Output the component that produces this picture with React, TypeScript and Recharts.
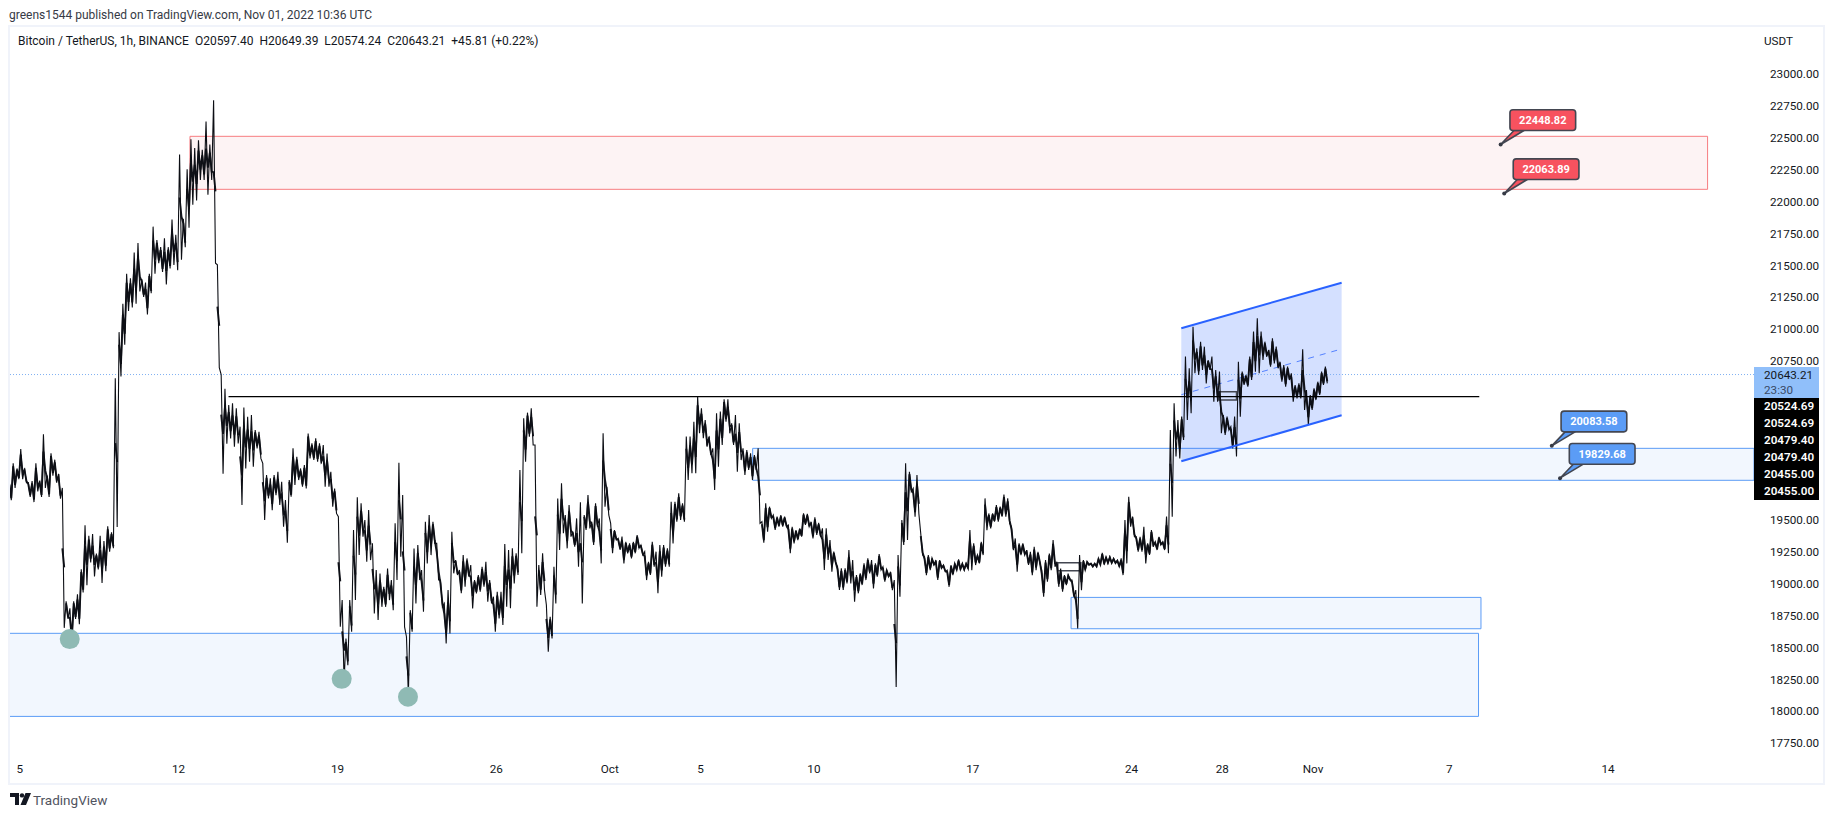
import React from "react";
import {
  ComposedChart, Line, Area, XAxis, YAxis, ReferenceArea, ReferenceLine, ReferenceDot, Scatter,
} from "recharts";

// 4-hour high / low readings of BTC/USDT, first bucket begins at hour -11 relative to Sep 5 00:00
const highs = [
19795,19947,19906,20058,19906,19795,19808,19947,19808,20175,19850,20025,19975,19864,19753,18864,18808,18864,18919,19114,
19461,19378,19392,19239,19378,19336,19453,19405,20614,20976,21198,21434,21398,21601,21676,21392,21365,21434,21804,21698,
21643,21712,21643,21859,21740,22371,21865,22254,22490,22421,22482,22407,22629,22448,22796,21504,20642,20531,
20404,20417,20378,20234,20385,20312,20325,20207,20194,19946,19854,19828,19854,19880,19802,19658,19815,20064,19998,19906,
19933,20181,20103,20142,20103,20090,20024,19880,19749,19527,18873,18572,18873,19422,19679,19632,19501,19579,19318,19108,
19082,18977,19121,19030,19475,19951,19697,18585,18794,19278,19305,19108,19488,19540,19488,19318,19030,18847,18951,
19410,19187,19109,19227,19200,19148,19030,19070,19135,19174,19030,18899,18939,18939,19313,19266,19279,19240,19894,20300,
20344,20378,20090,19148,19240,18834,18742,19135,19671,19789,19541,19619,19410,19514,19640,19541,19698,19488,19632,19514,
20182,19763,19475,19423,19357,19371,19331,19318,19331,19384,19305,19253,19174,19331,19253,19305,19305,19279,
19645,19645,19711,19632,20156,20156,20273,20470,20378,20286,20156,20064,20339,20352,20449,20449,20260,20326,20260,20064,
20051,20025,20012,20064,19488,19632,19606,19541,19528,19541,19528,19462,19449,19423,19436,19554,19549,19488,19522,19480,
19436,19436,19344,19253,19135,19122,19122,19266,19187,19070,19083,19161,19200,19187,19161,19234,19135,19109,
19095,19030,19226,19501,19946,19880,19750,19854,19396,19213,19226,19200,19187,19187,19148,19108,19148,19161,19192,19161,
19161,19422,19318,19226,19331,19671,19553,19553,19619,19606,19702,19671,19449,19357,19318,19318,19265,19252,19291,19252,
19108,19187,19239,19344,19174,19121,19069,19069,19030,18951,19226,19187,19174,19161,19161,19200,19244,19213,
19213,19200,19187,19200,19501,19684,19528,19370,19370,19449,19318,19423,19331,19370,19331,19528,20208,20417,20286,20313,
20784,20692,21019,20849,20901,20862,20757,20784,20679,20666,20326,20313,20234,20313,20744,20666,20640,20784,20980,21085,
20980,20901,20836,20928,20862,20744,20718,20705,20653,20561,20574,20841,20522,20483,20535,20587,20666,20705,
];
const lows = [
19656,19753,19822,19822,19795,19683,19642,19725,19683,19753,19683,19850,19795,19669,18655,18725,18502,18725,18683,18933,
18989,19169,19058,19114,19008,19100,19253,19280,19447,20628,20878,21142,21170,21198,21295,21253,21114,21281,21434,21517,
21448,21351,21476,21504,21462,21545,21643,21795,21976,22009,22171,22171,22054,22171,21517,20698,19864,20100,
20142,20077,20103,19619,19906,19959,19920,20064,19985,19501,19671,19579,19697,19619,19449,19323,19684,19776,19815,19763,
19749,19985,19972,19959,19946,19763,19763,19606,19553,18663,18232,18362,18624,18873,19226,19370,19174,19187,18768,18716,
18820,18820,18873,18794,19030,19213,18663,18127,18624,18847,19030,18781,19161,19226,19318,19030,18820,18533,18611,
19083,19070,18926,18978,19056,18808,18926,18939,18978,18860,18847,18625,18729,18677,18821,18808,19004,19070,19240,19959,
20156,20090,18821,18913,18952,18468,18572,18847,19266,19397,19279,19371,19292,19135,18847,19423,19436,19305,19449,19161,
19606,19541,19240,19344,19266,19161,19240,19200,19240,19279,19227,19030,19070,19135,18926,19056,19135,19135,
19318,19488,19501,19488,19815,19868,19868,20182,20143,20077,20012,19737,19920,20090,20273,20182,20090,19881,19972,19855,
19894,19815,19894,19475,19323,19410,19514,19423,19449,19449,19449,19240,19318,19344,19371,19462,19449,19357,19384,19371,
19109,19187,19096,19161,18952,18952,19004,19004,18860,18926,18991,19030,19083,18965,19056,19109,19017,19056,
18951,18190,18899,19305,19344,19723,19527,19553,19226,19069,19108,19148,19030,19121,19095,18977,19069,19108,19108,19108,
19121,19108,19148,19161,19226,19422,19435,19488,19488,19527,19527,19475,19265,19095,19226,19226,19148,19069,19108,19161,
18899,19017,19108,19134,18977,18938,18991,19030,18899,18650,18951,19108,19148,19134,19134,19148,19148,19161,
19161,19161,19135,19069,19161,19449,19370,19253,19253,19161,19227,19292,19266,19305,19266,19240,19528,20000,19985,20129,
20286,20339,20653,20640,20679,20574,20679,20430,20430,20182,20169,20208,20064,20000,20313,20561,20548,20600,20666,20653,
20757,20784,20705,20731,20692,20587,20548,20600,20430,20456,20456,20365,20247,20365,20443,20483,20561,20574,
];
const firstHour = -11;

const dayTickHours = [0, 168, 336, 504, 624, 720, 840, 1008, 1176, 1272, 1368, 1512, 1680];
const dayTickLabels = ["5", "12", "19", "26", "Oct", "5", "10", "17", "24", "28", "Nov", "7", "14"];
const priceTicks = [23000, 22750, 22500, 22250, 22000, 21750, 21500, 21250, 21000, 20750, 19500, 19250, 19000, 18750, 18500, 18250, 18000, 17750];
const stackedPriceTags = ["20524.69", "20524.69", "20479.40", "20479.40", "20455.00", "20455.00"];

const hourDomain = [-10.9, 1834.4];
const priceDomain = [17657, 23371];

const lastPrice = 20643.21;
const resistanceLevel = 20470;

const channelHours = [1228.6, 1398.2];
const channelUpper = [21006, 21364];
const channelMiddle = [20485, 20844];
const channelLower = [19962, 20323];

const zoneRedHours = [180, 1785.3];
const zoneRedPrices = [22097, 22513];
const zoneMidHours = [775.2, 1834.4];
const zoneMidPrices = [19813, 20064];
const zoneLowHours = [-10.9, 1543];
const zoneLowPrices = [17960, 18612];
const zoneSmallHours = [1112, 1545.6];
const zoneSmallPrices = [18648, 18894];
const greyBoxHours = [[1098, 1122.4], [1267.7, 1287]];
const greyBoxPrices = [[19103, 19166], [20443, 20508]];

const touchHours = [52.8, 340.5, 410.6];
const touchPrices = [18567, 18255, 18114];

const noteHours = [1566.4, 1570.2, 1620.5, 1629.2];
const notePrices = [22448.82, 22063.89, 20083.58, 19829.68];
const noteColors = ["#f7525f", "#f7525f", "#5b9cf6", "#5b9cf6"];
const noteDx = [9.3, 9, 9.3, 9.3];

const ribbon = highs.flatMap((h, i) => [
  { hour: firstHour + 4 * i, price: h },
  { hour: firstHour + 4 * i + 2, price: lows[i] },
]);
// the dense part of each bucket: a short stretch round the middle of its high-low range;
// it is broken where two neighbouring buckets are far apart, so fast moves stay thin
const bodyRanges = highs.map((h, i) => {
  const mid = (h + lows[i]) / 2;
  const half = Math.min((h - lows[i]) * 0.38, 75);
  return { top: mid + half, bottom: mid - half };
});
const bodies = bodyRanges.flatMap((r, i) => {
  const hour = firstHour + 4 * i;
  const next = bodyRanges[i + 1];
  const rows: { hour: number; body: number | null }[] = [
    { hour, body: r.top },
    { hour: hour + 2, body: r.bottom },
  ];
  if (next && (next.top < r.bottom - 110 || next.bottom > r.top + 110)) {
    rows.push({ hour: hour + 3, body: null });
  }
  return rows;
});
const band = channelHours.map((hour, i) => ({
  hour,
  band: [channelLower[i], channelUpper[i]],
  upper: channelUpper[i],
  middle: channelMiddle[i],
  lower: channelLower[i],
}));
const touches = touchHours.map((hour, i) => ({ hour, price: touchPrices[i] }));

const FONT = "Roboto, 'Liberation Sans', sans-serif";
const BLUE = "#5b9cf6";
const BLUE_FILL = "#f2f7fe";
const RED = "#f77c80";
const RED_FILL = "#fdf3f4";
const TEXT = "#131722";

function Note({ cx, cy, color, label, dx }: any) {
  if (cx == null || cy == null) return null;
  const bx = cx + dx;
  const by = cy - 34.7;
  const w = 65.7;
  const h = 20.7;
  return (
    <g>
      <path
        d={`M${cx},${cy} L${bx + 4},${by + h} L${bx + 14},${by + h} Z`}
        fill={color}
        stroke="#434651"
        strokeWidth={1.6}
        strokeLinejoin="round"
      />
      <circle cx={cx} cy={cy} r={2} fill="#363a45" />
      <rect x={bx} y={by} width={w} height={h} rx={3} fill={color} stroke="#434651" strokeWidth={1.6} />
      <text
        x={bx + w / 2}
        y={by + h / 2 + 3.8}
        textAnchor="middle"
        fontFamily={FONT}
        fontSize={11}
        fontWeight={700}
        fill="#ffffff"
      >
        {label}
      </text>
    </g>
  );
}

const tagStyle: React.CSSProperties = {
  position: "absolute",
  left: 1754,
  width: 65,
  fontFamily: FONT,
  fontSize: 11.7,
  boxSizing: "border-box",
  paddingLeft: 10,
};

export default function App() {
  return (
    <div style={{ position: "absolute", left: 0, top: 0, width: 1834, height: 818, background: "#fff", overflow: "hidden" }}>
      <div style={{ position: "absolute", left: 9, top: 7, fontFamily: FONT, fontSize: 12, lineHeight: "16px", color: "#363a45", whiteSpace: "nowrap" }}>
        greens1544 published on TradingView.com, Nov 01, 2022 10:36 UTC
      </div>
      <ComposedChart
        width={1834}
        height={818}
        margin={{ top: 27, left: 9.5, right: 15, bottom: 33 }}
        style={{ position: "absolute", left: 0, top: 0 }}
      >
        <XAxis
          type="number"
          dataKey="hour"
          domain={hourDomain}
          allowDataOverflow
          ticks={dayTickHours}
          interval={0}
          height={30}
          axisLine={false}
          tickLine={false}
          tickMargin={4}
          tickFormatter={(v: number) => dayTickLabels[dayTickHours.indexOf(v)]}
          tick={{ fontFamily: FONT, fontSize: 11.7, fill: TEXT }}
        />
        <YAxis
          type="number"
          orientation="right"
          domain={priceDomain}
          allowDataOverflow
          ticks={priceTicks}
          interval={0}
          width={65}
          axisLine={false}
          tickLine={false}
          tickMargin={10}
          tickFormatter={(v: number) => v.toFixed(2)}
          tick={{ fontFamily: FONT, fontSize: 11.7, fill: TEXT }}
        />
        <ReferenceArea x1={zoneRedHours[0]} x2={zoneRedHours[1]} y1={zoneRedPrices[0]} y2={zoneRedPrices[1]} fill={RED_FILL} fillOpacity={1} stroke={RED} strokeWidth={1} />
        <ReferenceArea x1={zoneLowHours[0]} x2={zoneLowHours[1]} y1={zoneLowPrices[0]} y2={zoneLowPrices[1]} fill={BLUE_FILL} fillOpacity={1} stroke={BLUE} strokeWidth={1} />
        <ReferenceArea x1={zoneMidHours[0]} x2={zoneMidHours[1]} y1={zoneMidPrices[0]} y2={zoneMidPrices[1]} fill={BLUE_FILL} fillOpacity={1} stroke={BLUE} strokeWidth={1} />
        <ReferenceArea x1={zoneSmallHours[0]} x2={zoneSmallHours[1]} y1={zoneSmallPrices[0]} y2={zoneSmallPrices[1]} fill={BLUE_FILL} fillOpacity={1} stroke={BLUE} strokeWidth={1} />
        <ReferenceLine y={lastPrice} stroke="#7fb0f2" strokeDasharray="1 2" strokeWidth={1} />
        <Area data={band} dataKey="band" type="linear" stroke="none" fill="#2962ff" fillOpacity={0.2} isAnimationActive={false} dot={false} activeDot={false} />
        <Line data={band} dataKey="middle" type="linear" stroke="#2962ff" strokeWidth={1} strokeDasharray="6 6" strokeOpacity={0.75} dot={false} activeDot={false} isAnimationActive={false} />
        <Scatter
          data={touches}
          dataKey="price"
          isAnimationActive={false}
          shape={(p: any) => <circle cx={p.cx} cy={p.cy} r={10} fill="#8fbab4" />}
        />
        <ReferenceArea x1={greyBoxHours[0][0]} x2={greyBoxHours[0][1]} y1={greyBoxPrices[0][0]} y2={greyBoxPrices[0][1]} fill="none" stroke="#434651" strokeWidth={1.5} />
        <ReferenceArea x1={greyBoxHours[1][0]} x2={greyBoxHours[1][1]} y1={greyBoxPrices[1][0]} y2={greyBoxPrices[1][1]} fill="none" stroke="#434651" strokeWidth={1.5} />
        <Line data={bodies} dataKey="body" type="linear" stroke="#14161d" strokeWidth={1.9} strokeLinejoin="miter" connectNulls={false} dot={false} activeDot={false} isAnimationActive={false} />
        <Line data={ribbon} dataKey="price" type="linear" stroke="#0c0e14" strokeWidth={1.1} strokeLinejoin="miter" dot={false} activeDot={false} isAnimationActive={false} />
        <ReferenceLine
          segment={[{ x: 220.8, y: resistanceLevel }, { x: 1543.8, y: resistanceLevel }]}
          stroke="#000000"
          strokeWidth={1.2}
        />
        <Line data={band} dataKey="upper" type="linear" stroke="#2962ff" strokeWidth={2} dot={false} activeDot={false} isAnimationActive={false} />
        <Line data={band} dataKey="lower" type="linear" stroke="#2962ff" strokeWidth={2} dot={false} activeDot={false} isAnimationActive={false} />
        {noteHours.map((h, i) => (
          <ReferenceDot
            key={i}
            x={h}
            y={notePrices[i]}
            r={2}
            shape={(p: any) => <Note cx={p.cx} cy={p.cy} color={noteColors[i]} dx={noteDx[i]} label={notePrices[i].toFixed(2)} />}
          />
        ))}
      </ComposedChart>
      <div style={{ position: "absolute", left: 8, top: 25, width: 1817, height: 760, boxSizing: "border-box", border: "2.5px solid #f0f3fa", pointerEvents: "none" }} />
      <div style={{ position: "absolute", left: 18, top: 33, fontFamily: FONT, fontSize: 12, lineHeight: "16px", color: TEXT, whiteSpace: "pre" }}>
        {"Bitcoin / TetherUS, 1h, BINANCE  O20597.40  H20649.39  L20574.24  C20643.21  +45.81 (+0.22%)"}
      </div>
      <div style={{ ...tagStyle, top: 33, lineHeight: "16px", color: TEXT }}>USDT</div>
      <div style={{ ...tagStyle, top: 367, height: 31, background: "#90bffa", color: TEXT, lineHeight: "15px", paddingTop: 1 }}>
        <div>{lastPrice.toFixed(2)}</div>
        <div style={{ color: "#3a4a66" }}>23:30</div>
      </div>
      <div style={{ ...tagStyle, top: 398, height: 102, background: "#000", color: "#fff", fontWeight: 600 }}>
        {stackedPriceTags.map((t, i) => (
          <div key={i} style={{ height: 17, lineHeight: "17px" }}>{t}</div>
        ))}
      </div>
      <svg style={{ position: "absolute", left: 10, top: 793 }} width={21} height={13} viewBox="0 0 21 13">
        <path d="M0 0h9v12H5V4H0z M10.5 12L15.5 0H21l-5 12z" fill="#131722" />
        <circle cx="12" cy="2.4" r="2.2" fill="#131722" />
      </svg>
      <div style={{ position: "absolute", left: 33, top: 792, fontFamily: FONT, fontSize: 13.5, lineHeight: "16px", color: "#50535e" }}>TradingView</div>
    </div>
  );
}
